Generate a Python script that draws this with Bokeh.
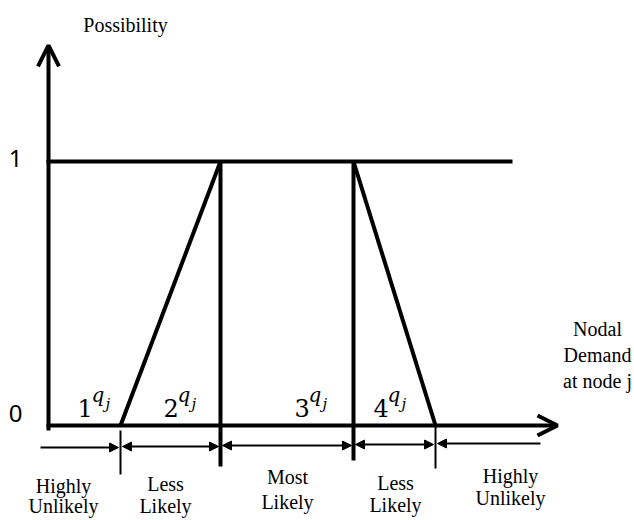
from bokeh.plotting import figure
from bokeh.models import Range1d, Arrow, OpenHead, NormalHead
from bokeh.core.properties import value
from bokeh.embed import file_html
from bokeh.resources import INLINE

# ---- data ----
breakpoints = [120, 220, 353, 435]        # 1q_j .. 4q_j on the demand axis
possibility = [0, 1, 1, 0]                # membership at each breakpoint
demand_axis_end = 557
possibility_axis_end = 1.44
top_line_end = 512
y_tick_values = [0, 1]
y_tick_labels = ["0", "1"]
q_indices = ["1", "2", "3", "4"]
region_top = ["Highly", "Less", "Most", "Less", "Highly"]
region_bottom = ["Unlikely", "Likely", "Likely", "Likely", "Unlikely"]
region_centers = [63, 165, 287, 395, 510]

# image-pixel -> possibility units helper (layout only)
BASE, TOP = 425.0, 161.0
def Y(img_y):
    return (BASE - img_y) / (BASE - TOP)
OFF = 7  # baseline compensation for alphabetic text
def YT(img_y):
    return Y(img_y - OFF)

W, H = 634, 520
p = figure(width=W, height=H, x_range=Range1d(0, W),
           y_range=Range1d(Y(H), Y(0)), toolbar_location=None,
           output_backend="svg", min_border=0)
p.axis.visible = False
p.grid.visible = False
p.outline_line_color = None
p.background_fill_color = "white"

LW = 4
# axes with open arrow heads
p.add_layout(Arrow(end=OpenHead(size=21, line_width=LW, line_color="black"),
                   x_start=48, y_start=Y(430), x_end=48, y_end=possibility_axis_end,
                   line_width=LW, line_color="black"))
p.add_layout(Arrow(end=OpenHead(size=20, line_width=LW, line_color="black"),
                   x_start=46, y_start=0, x_end=demand_axis_end, y_end=0,
                   line_width=LW, line_color="black"))
# possibility = 1 line
p.line([46, top_line_end], [1, 1], line_width=LW, line_color="black")
# trapezoid
p.line(breakpoints[0:2], possibility[0:2], line_width=LW, line_color="black")
p.line(breakpoints[2:4], possibility[2:4], line_width=LW, line_color="black")
p.segment(x0=[breakpoints[1], breakpoints[2]], y0=[1, 1],
          x1=[breakpoints[1], breakpoints[2]], y1=[Y(466), Y(460)],
          line_width=LW, line_color="black")
# thin ticks at q1 and q4
p.segment(x0=[breakpoints[0], breakpoints[3]], y0=[Y(430), Y(426)],
          x1=[breakpoints[0], breakpoints[3]], y1=[Y(474), Y(468)],
          line_width=2, line_color="black")

# region arrows
def nh():
    return NormalHead(size=9, fill_color="black", line_color="black", line_width=1)
ry = [Y(447), Y(446), Y(445), Y(444), Y(443)]
p.add_layout(Arrow(end=nh(), x_start=40, y_start=ry[0], x_end=breakpoints[0] - 2, y_end=ry[0],
                   line_width=2, line_color="black"))
for i in range(3):
    p.add_layout(Arrow(start=nh(), end=nh(), x_start=breakpoints[i] + 2, y_start=ry[i + 1],
                       x_end=breakpoints[i + 1] - 2, y_end=ry[i + 1],
                       line_width=2, line_color="black"))
p.add_layout(Arrow(end=nh(), x_start=540, y_start=ry[4], x_end=breakpoints[3] + 2, y_end=ry[4],
                   line_width=2, line_color="black"))

serif = value("Liberation Serif")
# region labels
top_y = [YT(492), YT(490), YT(483), YT(489), YT(482)]
bot_y = [YT(512), YT(512), YT(508), YT(511), YT(504)]
p.text(x=region_centers, y=top_y, text=region_top, text_font=serif, text_font_size="20px",
       text_align="center", text_baseline="alphabetic", text_color="black")
p.text(x=region_centers, y=bot_y, text=region_bottom, text_font=serif, text_font_size="20px",
       text_align="center", text_baseline="alphabetic", text_color="black")

# axis titles
p.text(x=[125], y=[YT(31)], text=["Possibility"], text_font=serif, text_font_size="20px",
       text_align="center", text_baseline="alphabetic", text_color="black")
p.text(x=[597, 597, 597], y=[YT(335), YT(361), YT(387)], text=["Nodal", "Demand", "at node j"],
       text_font=serif, text_font_size="20px", text_align="center",
       text_baseline="alphabetic", text_color="black")

# y tick labels
p.text(x=[15, 15], y=[Y(413), Y(158)], text=y_tick_labels, text_font=value("Noto Sans"),
       text_font_size="24px", text_align="center", text_baseline="middle", text_color="black")

# q labels: digit, superscript q, subscript j
qx = [77, 163, 294, 373]
mfont = value("DejaVu Serif")
p.text(x=qx, y=[YT(414)] * 4, text=q_indices, text_font=mfont, text_font_size="24px",
       text_align="left", text_baseline="alphabetic", text_color="black")
p.text(x=[x + 14 for x in qx], y=[YT(401)] * 4, text=["q"] * 4, text_font=mfont,
       text_font_style="italic", text_font_size="20px", text_align="left",
       text_baseline="alphabetic", text_color="black")
p.text(x=[x + 28 for x in qx], y=[YT(410)] * 4, text=["j"] * 4, text_font=mfont,
       text_font_style="italic", text_font_size="15px", text_align="left",
       text_baseline="alphabetic", text_color="black")

open("out.html", "w").write(file_html(p, INLINE))
